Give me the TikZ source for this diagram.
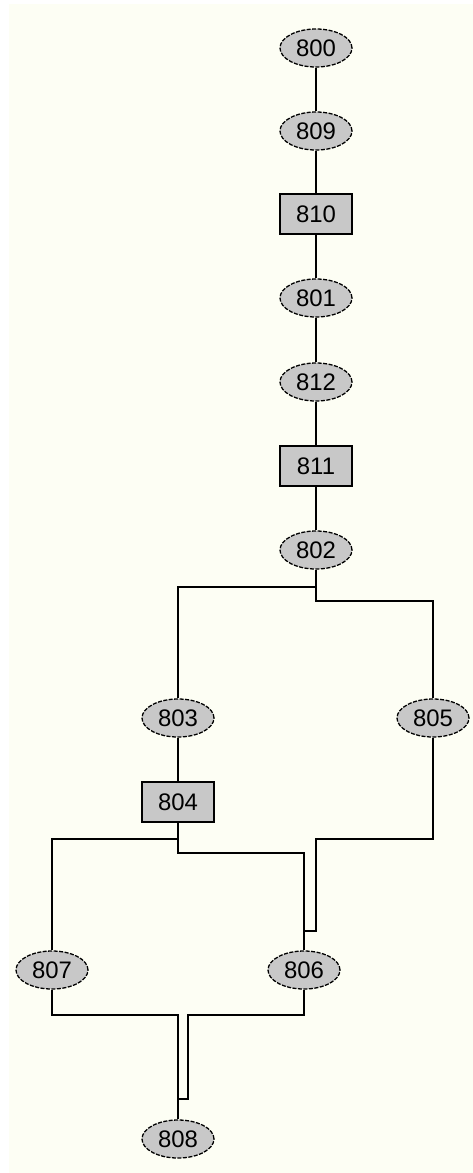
\documentclass[tikz,border=0pt]{standalone}
\usepackage{fontspec}
\setmainfont{Liberation Sans}
\usepackage{tikz}
\usetikzlibrary{shapes,arrows,positioning,calc}

\definecolor{paper}{RGB}{253,254,244}
\definecolor{nodegray}{RGB}{200,200,200}

\begin{document}
\begin{tikzpicture}[x=1bp,y=-1bp,
    op/.style={shape=ellipse,draw,dash pattern=on 4bp off 1.5bp,line width=1.3bp,
      fill=nodegray,minimum width=72bp,minimum height=38bp,inner sep=0pt,
      font=\fontsize{24}{24}\selectfont},
    blk/.style={shape=rectangle,draw,line width=1.4bp,fill=nodegray,
      minimum width=72bp,minimum height=40bp,inner sep=0pt,
      font=\fontsize{24}{24}\selectfont},
    wire/.style={line width=1.6bp}]
    % canvas
    \fill[white] (0,0) rectangle (473,1173);
    \fill[paper] (9,4) rectangle (473,1173);
    \useasboundingbox (0,0) rectangle (473,1173);

    % main column
    \node[op]  (n800) at (316,48)  {800};
    \node[op]  (n809) at (316,131) {809};
    \node[blk] (n810) at (316,214) {810};
    \node[op]  (n801) at (316,298) {801};
    \node[op]  (n812) at (316,382) {812};
    \node[blk] (n811) at (316,466) {811};
    \node[op]  (n802) at (316,550) {802};

    % branches
    \node[op]  (n803) at (178,718)  {803};
    \node[op]  (n805) at (433,718)  {805};
    \node[blk] (n804) at (178,802)  {804};
    \node[op]  (n807) at (52,970)   {807};
    \node[op]  (n806) at (304,970)  {806};
    \node[op]  (n808) at (178,1139) {808};

    % straight links
    \draw[wire] (n800) -- (n809);
    \draw[wire] (n809) -- (n810);
    \draw[wire] (n810) -- (n801);
    \draw[wire] (n801) -- (n812);
    \draw[wire] (n812) -- (n811);
    \draw[wire] (n811) -- (n802);
    \draw[wire] (n803) -- (n804);

    % split after 802
    \draw[wire] (n802.south) -- (316,587) -| (n803.north);
    \draw[wire] (n802.south) -- (316,601) -| (n805.north);

    % split after 804
    \draw[wire] (n804.south) -- (178,839) -| (n807.north);
    \draw[wire] (n804.south) -- (178,853) -| (n806.north);
    \draw[wire] (n805.south) -- (433,839) -- (316,839) -- (316,931) -| (n806.north);

    % join into 808
    \draw[wire] (n807.south) |- (178,1015) -- (n808.north);
    \draw[wire] (n806.south) |- (188,1015) -- (188,1099) -| (n808.north);
\end{tikzpicture}
\end{document}
